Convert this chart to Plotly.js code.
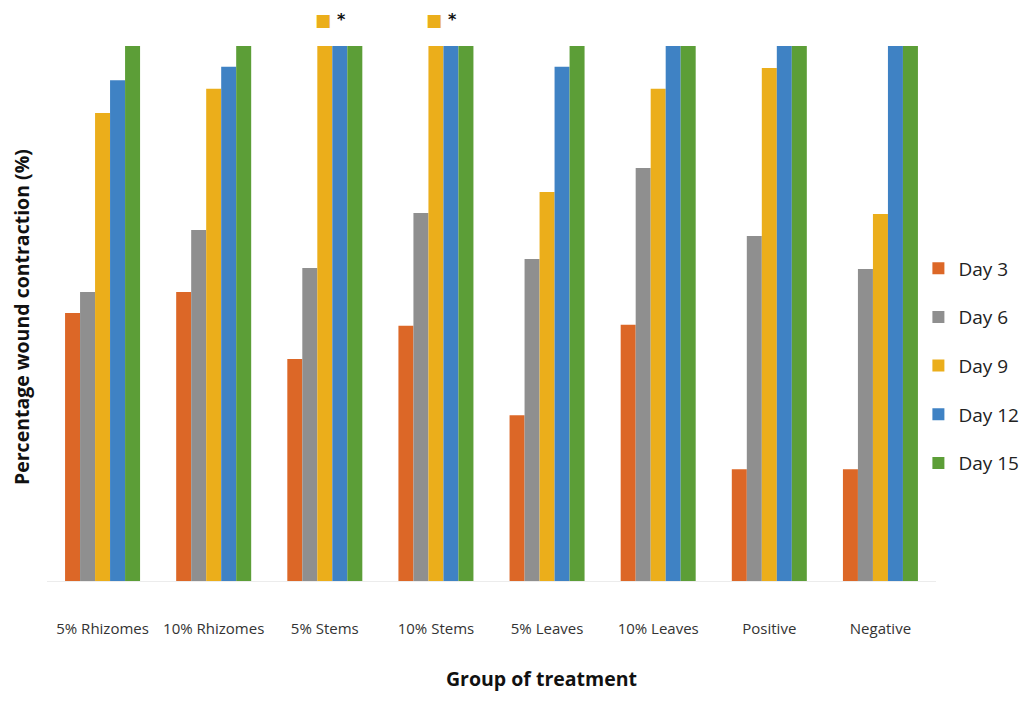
<!DOCTYPE html>
<html>
<head>
<meta charset="utf-8">
<script src="https://cdn.plot.ly/plotly-3.0.1.min.js"></script>
<style>html,body{margin:0;padding:0;background:#fff;}#chart{width:1025px;height:709px;}</style>
</head>
<body>
<div id="chart"></div>
<script>
var categories = ["5% Rhizomes", "10% Rhizomes", "5% Stems", "10% Stems", "5% Leaves", "10% Leaves", "Positive", "Negative"];
var seriesNames = ["Day 3", "Day 6", "Day 9", "Day 12", "Day 15"];
var day3  = [50.1, 54.0, 41.5, 47.7, 31.0, 47.9, 20.9, 20.9];
var day6  = [54.0, 65.6, 58.5, 68.8, 60.2, 77.2, 64.5, 58.3];
var day9  = [87.5, 92.0, 100, 100, 72.7, 92.0, 95.9, 68.6];
var day12 = [93.6, 96.1, 100, 100, 96.1, 100, 100, 100];
var day15 = [100, 100, 100, 100, 100, 100, 100, 100];
var starredGroups = ["5% Stems", "10% Stems"];
var colors = ["#DC6727", "#8F8F8F", "#EBAE1B", "#3F82C4", "#5C9E37"];

var values = [day3, day6, day9, day12, day15];
var traces = values.map(function (v, i) {
  return {
    type: "bar",
    name: seriesNames[i],
    x: categories,
    y: v,
    marker: {color: colors[i], line: {width: 0}},
    legendgroup: "g" + i,
    hoverinfo: "x+y+name"
  };
});

var ML = 47, MR = 89, MT = 46, MB = 128, W = 1025, H = 709;
var PW = W - ML - MR, PH = H - MT - MB;

var annotations = [];
starredGroups.forEach(function (g) {
  annotations.push({xref: "x", yref: "paper", x: g, y: 1.049, xshift: -2, text: "■",
    showarrow: false, font: {family: "DejaVu Sans", size: 17, color: "#EBAE1B"}, yanchor: "middle"});
  annotations.push({xref: "x", yref: "paper", x: g, y: 1.049, xshift: 17, text: "<b>*</b>",
    showarrow: false, font: {family: "DejaVu Sans", size: 16, color: "#111"}, yanchor: "middle"});
});
annotations.push({xref: "paper", yref: "paper", x: (541 - ML) / PW, y: (H - MB - 678) / PH,
  xanchor: "center", yanchor: "middle", showarrow: false, text: "<b>Group of treatment</b>",
  font: {family: "'Open Sans', sans-serif", size: 19.5, color: "#111"}});
annotations.push({xref: "paper", yref: "paper", x: (21 - ML) / PW, y: (H - MB - 317) / PH,
  xanchor: "center", yanchor: "middle", showarrow: false, textangle: -90,
  text: "<b>Percentage wound contraction (%)</b>",
  font: {family: "'Open Sans', sans-serif", size: 19.5, color: "#111"}});

var layout = {
  width: W, height: H,
  margin: {l: ML, r: MR, t: MT, b: MB, autoexpand: false},
  paper_bgcolor: "#fff", plot_bgcolor: "#fff",
  bargap: 0.325, bargroupgap: 0,
  barmode: "group",
  showlegend: true,
  legend: {
    xref: "container", yref: "container",
    x: 0.896, xanchor: "left", y: 0.484, yanchor: "middle",
    font: {family: "'Open Sans', sans-serif", size: 19, color: "#222"},
    traceorder: "grouped", tracegroupgap: 21, itemwidth: 30
  },
  xaxis: {
    type: "category",
    showgrid: false, zeroline: false,
    showline: true, linecolor: "#ececec", linewidth: 1,
    ticks: "outside", ticklen: 34, tickcolor: "rgba(0,0,0,0)",
    tickfont: {family: "'Open Sans', sans-serif", size: 15, color: "#333"},
    automargin: false
  },
  yaxis: {
    range: [0, 100],
    showgrid: false, zeroline: false, showline: false,
    showticklabels: false, ticks: "",
    automargin: false
  },
  annotations: annotations
};

Plotly.newPlot("chart", traces, layout, {displayModeBar: false, staticPlot: true});
</script>
</body>
</html>
